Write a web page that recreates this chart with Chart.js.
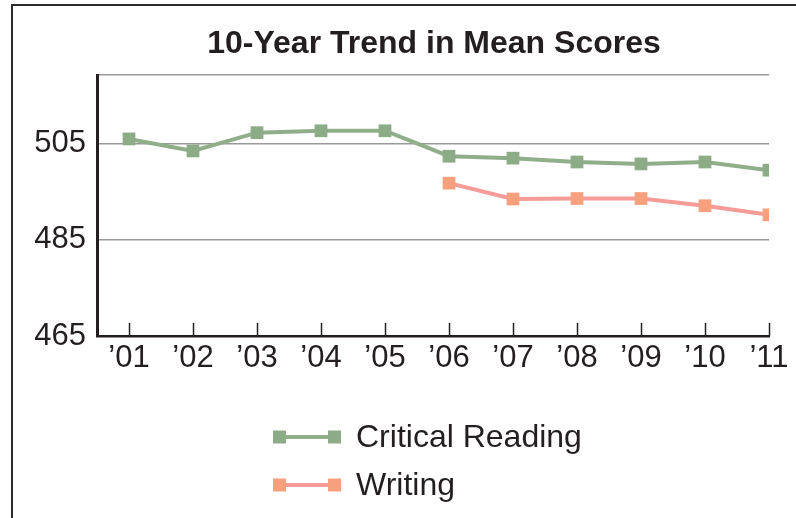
<!DOCTYPE html>
<html>
<head>
<meta charset="utf-8">
<script src="https://cdn.jsdelivr.net/npm/chart.js@4"></script>
<style>
  html, body { margin: 0; padding: 0; background: #fff; }
  canvas { display: block; }
</style>
</head>
<body>
<canvas id="ctx" width="796" height="518"></canvas>
<script>
const years = [2001, 2002, 2003, 2004, 2005, 2006, 2007, 2008, 2009, 2010, 2011];
const readingScores = [506, 503.5, 507.3, 507.7, 507.7, 502.4, 502, 501.2, 500.8, 501.2, 499.5];
const writingScores = [null, null, null, null, null, 496.8, 493.5, 493.6, 493.6, 492.1, 490.2];
const yTicks = [465, 485, 505];
const yMin = 465;
const yMax = 519.3;
const chartTitle = '10-Year Trend in Mean Scores';

const fontFamily = "'Liberation Sans', Arial, Helvetica, sans-serif";
const textColor = '#231f20';

// white page, outer frame (left and top edges) and the title
const framePlugin = {
    id: 'frame',
    beforeDraw(chart) {
        const c = chart.ctx;
        c.save();
        c.fillStyle = '#fff';
        c.fillRect(0, 0, chart.width, chart.height);
        c.strokeStyle = '#2b2b2b';
        c.lineWidth = 2;
        c.beginPath();
        c.moveTo(12, chart.height);
        c.lineTo(12, 5);
        c.lineTo(chart.width, 5);
        c.stroke();
        c.fillStyle = textColor;
        c.font = 'bold 32px ' + fontFamily;
        c.textAlign = 'center';
        c.textBaseline = 'middle';
        c.fillText(chartTitle, 434, 44);
        c.restore();
    }
};

// small ticks pointing up into the plot
const innerTicks = {
    id: 'innerTicks',
    afterDraw(chart) {
        const c = chart.ctx;
        const x = chart.scales.x;
        const bottom = chart.chartArea.bottom;
        c.save();
        c.strokeStyle = '#222';
        c.lineWidth = 1.5;
        x.ticks.forEach(t => {
            const px = Math.round(x.getPixelForValue(t.value)) + 0.5;
            c.beginPath();
            c.moveTo(px, bottom);
            c.lineTo(px, bottom - 13);
            c.stroke();
        });
        c.restore();
    }
};

// stacked legend under the plot
const stackedLegend = {
    id: 'stackedLegend',
    afterDraw(chart) {
        const c = chart.ctx;
        c.save();
        chart.data.datasets.forEach((ds, i) => {
            const y = 437 + i * 48;
            c.strokeStyle = ds.borderColor;
            c.lineWidth = 4;
            c.beginPath();
            c.moveTo(280, y);
            c.lineTo(334, y);
            c.stroke();
            c.fillStyle = ds.pointBackgroundColor;
            c.fillRect(273, y - 6.5, 13, 13);
            c.fillRect(328, y - 6.5, 13, 13);
            c.fillStyle = textColor;
            c.font = '32px ' + fontFamily;
            c.textBaseline = 'middle';
            c.textAlign = 'left';
            c.fillText(ds.label, 356, y + 1);
        });
        c.restore();
    }
};

new Chart(document.getElementById('ctx'), {
    type: 'line',
    data: {
        datasets: [{
            label: 'Critical Reading',
            data: years.map((yr, i) => ({x: yr, y: readingScores[i]})),
            borderColor: '#91ae8b',
            pointBackgroundColor: '#8cab86',
            pointBorderWidth: 0,
            pointStyle: 'rect',
            pointRadius: 9,
            borderWidth: 4,
            tension: 0
        }, {
            label: 'Writing',
            data: years.map((yr, i) => ({x: yr, y: writingScores[i]})),
            borderColor: '#f59b98',
            pointBackgroundColor: '#f7a07e',
            pointBorderWidth: 0,
            pointStyle: 'rect',
            pointRadius: 9,
            borderWidth: 4,
            tension: 0
        }]
    },
    options: {
        responsive: false,
        animation: false,
        layout: { padding: { top: 75, right: 27, bottom: 122, left: 0 } },
        plugins: {
            legend: { display: false },
            tooltip: { enabled: false },
            title: { display: false }
        },
        scales: {
            x: {
                type: 'linear',
                min: 2000.5,
                max: 2011,
                afterBuildTicks: s => { s.ticks = years.map(v => ({value: v})); },
                afterFit: s => { s.height = 60; },
                grid: { display: false, drawTicks: false },
                border: { display: true, color: textColor, width: 2.5 },
                ticks: {
                    color: textColor,
                    font: { family: fontFamily, size: 31 },
                    padding: 4,
                    autoSkip: false,
                    maxRotation: 0,
                    callback: v => '\u2019' + String(v).slice(2)
                }
            },
            y: {
                min: yMin,
                max: yMax,
                afterBuildTicks: s => { s.ticks = yTicks.concat([yMax]).map(v => ({value: v})); },
                afterFit: s => { s.width = 97; },
                grid: { color: '#9a9a9a', lineWidth: 1.5, drawTicks: false },
                border: { display: true, color: textColor, width: 3 },
                ticks: {
                    color: textColor,
                    font: { family: fontFamily, size: 31 },
                    padding: 11,
                    callback: v => yTicks.includes(v) ? String(v) : ''
                }
            }
        }
    },
    plugins: [framePlugin, innerTicks, stackedLegend]
});
</script>
</body>
</html>
